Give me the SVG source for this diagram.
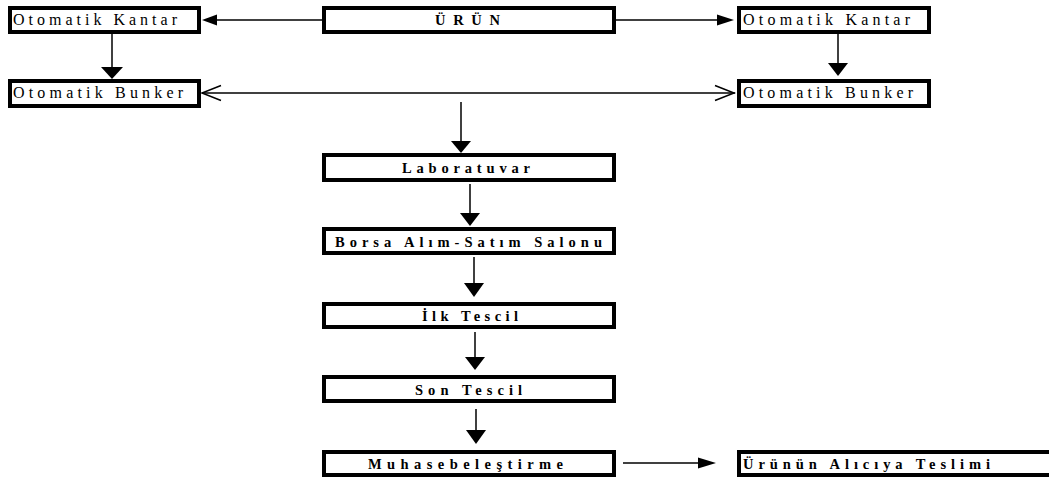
<svg xmlns="http://www.w3.org/2000/svg" width="1049" height="480" viewBox="0 0 1049 480">
<style>
.box{fill:#fff;stroke:#000;stroke-width:4}
.t{font-family:"Liberation Serif","Times New Roman",serif;font-size:16px;fill:#000}
.b{font-weight:bold;font-size:14.5px}
.ln{stroke:#000;stroke-width:1.5;fill:none}
.hd{fill:#000;stroke:none}
</style>
<rect width="1049" height="480" fill="#fff"/>
<g id="connectors">
<line class="ln" x1="322" y1="20" x2="215" y2="20"/>
<polygon class="hd" points="202,20 217,14.5 217,25.5"/>
<line class="ln" x1="615" y1="20" x2="720" y2="20"/>
<polygon class="hd" points="734,20 717,14.5 717,25.5"/>
<line class="ln" x1="112" y1="33" x2="112" y2="68"/>
<polygon class="hd" points="112,79 101,67 123,67"/>
<line class="ln" x1="838" y1="33" x2="838" y2="64"/>
<polygon class="hd" points="838,76 828,63 848,63"/>
<line class="ln" x1="202" y1="93" x2="735" y2="93"/>
<polyline class="ln" points="221,85.5 202,93 221,100.5"/>
<polyline class="ln" points="715,85.5 734,93 715,100.5"/>
<line class="ln" x1="461" y1="102" x2="461" y2="142"/>
<polygon class="hd" points="461,153 451,141 471,141"/>
<line class="ln" x1="470" y1="184" x2="470" y2="214"/>
<polygon class="hd" points="470,226 460,213 480,213"/>
<line class="ln" x1="474" y1="257" x2="474" y2="285"/>
<polygon class="hd" points="474,297 464,283 484,283"/>
<line class="ln" x1="475" y1="332" x2="475" y2="359"/>
<polygon class="hd" points="475,370 465,357 485,357"/>
<line class="ln" x1="476" y1="409" x2="476" y2="432"/>
<polygon class="hd" points="476,444 466,430 486,430"/>
<line class="ln" x1="623" y1="463" x2="700" y2="463"/>
<polygon class="hd" points="716,463 698,457.5 698,468.5"/>
</g>
<g id="urun">
<rect class="box" x="324" y="8" width="290" height="24"/>
<text class="t b" x="435" y="25" textLength="65" lengthAdjust="spacing">ÜRÜN</text>
</g>
<g id="kantar-left">
<rect class="box" x="10" y="8" width="189" height="24"/>
<text class="t" x="13" y="25" textLength="164" lengthAdjust="spacing">Otomatik Kantar</text>
</g>
<g id="kantar-right">
<rect class="box" x="739" y="8" width="190" height="24"/>
<text class="t" x="743" y="25" textLength="167" lengthAdjust="spacing">Otomatik Kantar</text>
</g>
<g id="bunker-left">
<rect class="box" x="10" y="81" width="189" height="25"/>
<text class="t" x="13" y="98" textLength="170" lengthAdjust="spacing">Otomatik Bunker</text>
</g>
<g id="bunker-right">
<rect class="box" x="739" y="81" width="190" height="25"/>
<text class="t" x="743" y="98" textLength="170" lengthAdjust="spacing">Otomatik Bunker</text>
</g>
<g id="laboratuvar">
<rect class="box" x="324" y="155" width="290" height="25"/>
<text class="t b" x="402" y="173" textLength="128" lengthAdjust="spacing">Laboratuvar</text>
</g>
<g id="borsa">
<rect class="box" x="324" y="229" width="290" height="24"/>
<text class="t b" x="335" y="247" textLength="267" lengthAdjust="spacing">Borsa Alım-Satım Salonu</text>
</g>
<g id="ilk-tescil">
<rect class="box" x="324" y="304" width="290" height="23"/>
<text class="t b" x="422" y="321" textLength="96" lengthAdjust="spacing">İlk Tescil</text>
</g>
<g id="son-tescil">
<rect class="box" x="324" y="377" width="290" height="24"/>
<text class="t b" x="415" y="395" textLength="107" lengthAdjust="spacing">Son Tescil</text>
</g>
<g id="muhasebe">
<rect class="box" x="324" y="452" width="290" height="23"/>
<text class="t b" x="368" y="469" textLength="195" lengthAdjust="spacing">Muhasebeleştirme</text>
</g>
<g id="teslim">
<rect class="box" x="739" y="452" width="330" height="23"/>
<text class="t b" x="743" y="469" textLength="247" lengthAdjust="spacing">Ürünün Alıcıya Teslimi</text>
</g>
</svg>
